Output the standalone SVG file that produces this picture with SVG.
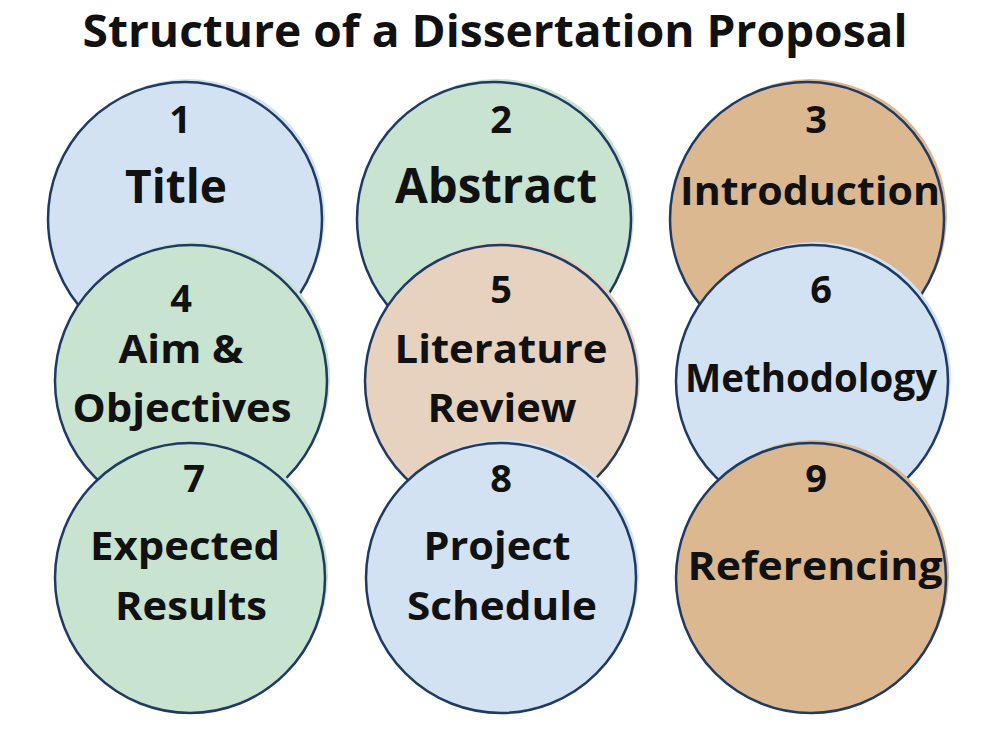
<svg xmlns="http://www.w3.org/2000/svg" width="981" height="729" viewBox="0 0 981 729">
<style>
.bg{stroke:none}
.ring{stroke:#1f3a63;stroke-width:2.5}
.blue{fill:#d2e2f2}
.green{fill:#c8e3cf}
.tan{fill:#dcb891}
.peach{fill:#e6d2bf}
text{font-family:"Open Sans","Noto Sans","DejaVu Sans",sans-serif;font-weight:700;fill:#111;text-anchor:middle}
.num{font-size:38px}
.lbl{font-size:40px}
.title{font-size:44px}
</style>
<rect width="981" height="729" fill="#ffffff"/>
<text class="title" x="495" y="47" textLength="825" lengthAdjust="spacingAndGlyphs">Structure of a Dissertation Proposal</text>
<g id="connectors"></g>
<g id="node1">
<circle class="bg blue" cx="188" cy="216" r="137"/>
<circle class="ring blue" cx="185" cy="219" r="137"/>
<text class="num" x="180" y="133">1</text>
<text class="lbl" x="176" y="203" style="font-size:46px" textLength="102" lengthAdjust="spacingAndGlyphs">Title</text>
</g>
<g id="node2">
<circle class="bg green" cx="497" cy="216" r="137"/>
<circle class="ring green" cx="494" cy="219" r="137"/>
<text class="num" x="501" y="133">2</text>
<text class="lbl" x="496" y="203" style="font-size:48px" textLength="202" lengthAdjust="spacingAndGlyphs">Abstract</text>
</g>
<g id="node3">
<circle class="bg tan" cx="810" cy="216" r="137"/>
<circle class="ring tan" cx="807" cy="219" r="137"/>
<text class="num" x="816" y="133">3</text>
<text class="lbl" x="810" y="205" textLength="260" lengthAdjust="spacingAndGlyphs">Introduction</text>
</g>
<g id="node4">
<circle class="bg green" cx="194" cy="378" r="136"/>
<circle class="ring green" cx="191" cy="381" r="136"/>
<text class="num" x="181" y="312">4</text>
<text class="lbl" x="181" y="363" textLength="125" lengthAdjust="spacingAndGlyphs">Aim &amp;</text>
<text class="lbl" x="182" y="422" textLength="219" lengthAdjust="spacingAndGlyphs">Objectives</text>
</g>
<g id="node5">
<circle class="bg peach" cx="504" cy="378" r="136"/>
<circle class="ring peach" cx="501" cy="381" r="136"/>
<text class="num" x="501" y="303">5</text>
<text class="lbl" x="501" y="363" textLength="213" lengthAdjust="spacingAndGlyphs">Literature</text>
<text class="lbl" x="502" y="422" textLength="149" lengthAdjust="spacingAndGlyphs">Review</text>
</g>
<g id="node6">
<circle class="bg blue" cx="815" cy="378" r="136"/>
<circle class="ring blue" cx="812" cy="381" r="136"/>
<text class="num" x="821" y="303">6</text>
<text class="lbl" x="811" y="392" textLength="252" lengthAdjust="spacingAndGlyphs">Methodology</text>
</g>
<g id="node7">
<circle class="bg green" cx="193" cy="575" r="135"/>
<circle class="ring green" cx="190" cy="578" r="135"/>
<text class="num" x="194" y="492">7</text>
<text class="lbl" x="185" y="560" textLength="190" lengthAdjust="spacingAndGlyphs">Expected</text>
<text class="lbl" x="191" y="620" textLength="152" lengthAdjust="spacingAndGlyphs">Results</text>
</g>
<g id="node8">
<circle class="bg blue" cx="504" cy="575" r="135"/>
<circle class="ring blue" cx="501" cy="578" r="135"/>
<text class="num" x="501" y="492">8</text>
<text class="lbl" x="497" y="560" textLength="147" lengthAdjust="spacingAndGlyphs">Project</text>
<text class="lbl" x="502" y="620" textLength="190" lengthAdjust="spacingAndGlyphs">Schedule</text>
</g>
<g id="node9">
<circle class="bg tan" cx="814" cy="575" r="135"/>
<circle class="ring tan" cx="811" cy="578" r="135"/>
<text class="num" x="816" y="492">9</text>
<text class="lbl" x="815" y="580" textLength="255" lengthAdjust="spacingAndGlyphs">Referencing</text>
</g>
</svg>
